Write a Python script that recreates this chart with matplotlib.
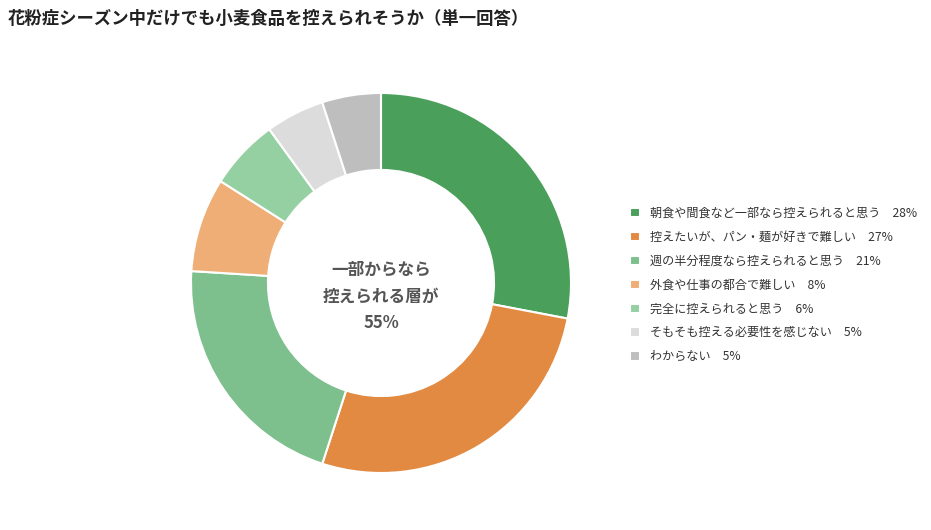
import matplotlib
matplotlib.use("Agg")
import matplotlib.pyplot as plt

plt.rcParams['font.family'] = ['Noto Sans CJK JP', 'DejaVu Sans']

title = "花粉症シーズン中だけでも小麦食品を控えられそうか（単一回答）"
categories = [
    "朝食や間食など一部なら控えられると思う",
    "控えたいが、パン・麺が好きで難しい",
    "週の半分程度なら控えられると思う",
    "外食や仕事の都合で難しい",
    "完全に控えられると思う",
    "そもそも控える必要性を感じない",
    "わからない",
]
values = [28, 27, 21, 8, 6, 5, 5]
colors = ["#4a9f5b", "#e28a42", "#7ec08d", "#eeae75", "#95d0a2", "#dcdcdc", "#bebebe"]
center_text = "一部からなら\n控えられる層が\n55%"

fig = plt.figure(figsize=(9.31, 5.30), dpi=100)
fig.patch.set_facecolor("white")

ax = fig.add_axes([191/931, 57/530, 380/931, 380/530])
wedges, _ = ax.pie(values, colors=colors, startangle=90, counterclock=False,
                   radius=1.0,
                   wedgeprops=dict(width=0.405, edgecolor="white", linewidth=1.5))
ax.set_aspect("equal")
ax.set_xlim(-1, 1)
ax.set_ylim(-1, 1)

ax.text(0, -0.07, center_text, ha="center", va="center", fontsize=12,
        fontweight="bold", color="#555555", linespacing=1.65)

labels = [f"{c}　{v}%" for c, v in zip(categories, values)]
leg = fig.legend(wedges, labels, loc="upper left", bbox_to_anchor=(619/931, 1 - 196/530),
                 frameon=False, fontsize=8.7, handlelength=0.8, handleheight=0.8,
                 handletextpad=0.9, labelspacing=0.9, labelcolor="#333333")

fig.text(8/931, 1 - 19/530, title, ha="left", va="center", fontsize=12.5,
         fontweight="bold", color="#222222")

fig.savefig("out.png", dpi=100, facecolor="white")
